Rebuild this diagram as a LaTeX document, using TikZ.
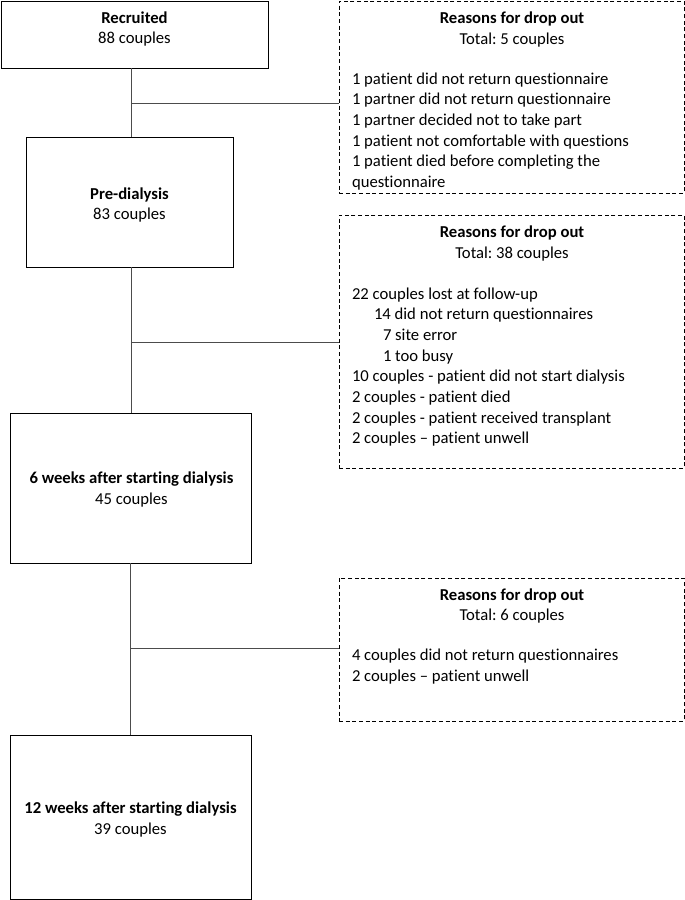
\documentclass[tikz,border=0pt]{standalone}
\usepackage{fontspec}
\setmainfont{Carlito}[Ligatures=NoCommon]
\frenchspacing
\begin{document}
\begin{tikzpicture}[x=0.75pt,y=-0.75pt,
  mainbox/.style={draw=black,line width=0.75pt,rectangle,inner sep=0pt,outer sep=0pt},
  dropbox/.style={draw=black,line width=0.75pt,dash pattern=on 3pt off 2pt,rectangle,inner sep=0pt,outer sep=0pt},
  txt/.style={inner sep=0pt,outer sep=0pt,font=\fontsize{12.5pt}{15.5pt}\selectfont},
  btxt/.style={txt,anchor=base,font=\fontsize{12.5pt}{15.5pt}\selectfont\bfseries},
  ctxt/.style={txt,anchor=base},
  ltxt/.style={txt,anchor=base west},
  conn/.style={draw=black!70,line width=0.75pt}]
\useasboundingbox (0,0) rectangle (685,900);

% main boxes
\node[mainbox,minimum width=200.25pt,minimum height=50.25pt] (rec) at (134.5,34.5) {};
\node[mainbox,minimum width=155.25pt,minimum height=97.5pt] (pre) at (129.5,202) {};
\node[mainbox,minimum width=180.75pt,minimum height=112.5pt] (w6) at (130.5,488) {};
\node[mainbox,minimum width=180.75pt,minimum height=123pt] (w12) at (130.5,817) {};

\node[btxt] (recA) at (134.5,23) {Recruited};
\node[ctxt] (recB) at (134.5,43) {88 couples};
\node[btxt] (preA) at (129.5,199) {Pre-dialysis};
\node[ctxt] (preB) at (129.5,219.5) {83 couples};
\node[btxt] (w6A) at (131.5,483) {6 weeks after starting dialysis};
\node[ctxt] (w6B) at (131.5,504) {45 couples};
\node[btxt] (w12A) at (130.5,813) {12 weeks after starting dialysis};
\node[ctxt] (w12B) at (130.5,834) {39 couples};

% drop-out boxes
\node[dropbox,minimum width=258.75pt,minimum height=144pt] (d1) at (511.5,97) {};
\node[dropbox,minimum width=258.75pt,minimum height=189.75pt] (d2) at (511.5,341.5) {};
\node[dropbox,minimum width=258.75pt,minimum height=107.25pt] (d3) at (511.5,649.5) {};

% box 1 text
\node[btxt] (d1t) at (512,23) {Reasons for drop out};
\node[ctxt] (d1s) at (512,44) {Total: 5 couples};
\node[ltxt] (d1a) at (352,84) {1 patient did not return questionnaire};
\node[ltxt] (d1b) at (352,104.7) {1 partner did not return questionnaire};
\node[ltxt] (d1c) at (352,125.4) {1 partner decided not to take part};
\node[ltxt] (d1d) at (352,146.1) {1 patient not comfortable with questions};
\node[ltxt] (d1e) at (352,166.8) {1 patient died before completing the};
\node[ltxt] (d1f) at (352,187.5) {questionnaire};

% box 2 text
\node[btxt] (d2t) at (512,237) {Reasons for drop out};
\node[ctxt] (d2s) at (512,258) {Total: 38 couples};
\node[ltxt] (d2a) at (352,299) {22 couples lost at follow-up};
\node[ltxt] (d2b) at (374,319.7) {14 did not return questionnaires};
\node[ltxt] (d2c) at (383,340.4) {7 site error};
\node[ltxt] (d2d) at (383,361.1) {1 too busy};
\node[ltxt] (d2e) at (352,381.8) {10 couples - patient did not start dialysis};
\node[ltxt] (d2f) at (352,402.5) {2 couples - patient died};
\node[ltxt] (d2g) at (352,423.2) {2 couples - patient received transplant};
\node[ltxt] (d2h) at (352,443.9) {2 couples – patient unwell};

% box 3 text
\node[btxt] (d3t) at (512,600) {Reasons for drop out};
\node[ctxt] (d3s) at (512,620) {Total: 6 couples};
\node[ltxt] (d3a) at (352,660) {4 couples did not return questionnaires};
\node[ltxt] (d3b) at (352,681) {2 couples – patient unwell};

% connectors
\coordinate (j1) at (131,103);
\coordinate (j2) at (131,342);
\coordinate (j3) at (130,648);
\draw[conn] (j1 |- rec.south) -- (j1 |- pre.north);
\draw[conn] (j1) -- (j1 -| d1.west);
\draw[conn] (j2 |- pre.south) -- (j2 |- w6.north);
\draw[conn] (j2) -- (j2 -| d2.west);
\draw[conn] (j3 |- w6.south) -- (j3 |- w12.north);
\draw[conn] (j3) -- (j3 -| d3.west);
\end{tikzpicture}
\end{document}
